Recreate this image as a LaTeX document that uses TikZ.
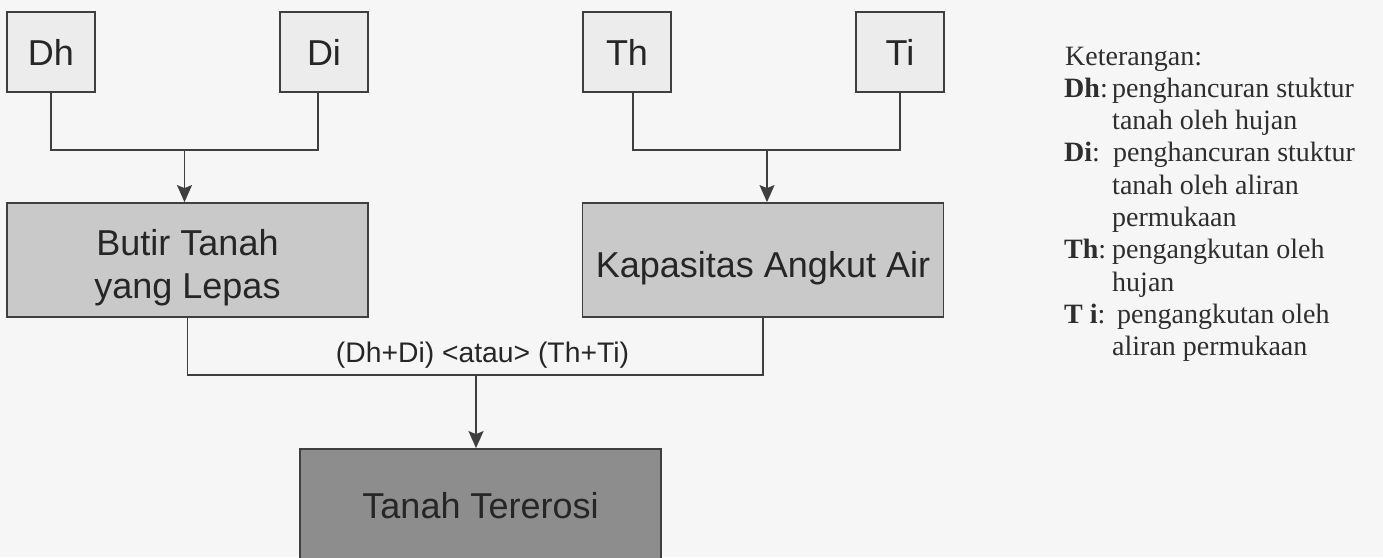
\documentclass[tikz,border=0pt]{standalone}
\usepackage{fontspec}
\setmainfont{Liberation Serif}
\newfontfamily\boxfont{Liberation Sans}
\usetikzlibrary{arrows.meta}
\definecolor{bgcol}{HTML}{F6F6F6}
\definecolor{inputfill}{HTML}{ECECEC}
\definecolor{midfill}{HTML}{C9C9C9}
\definecolor{endfill}{HTML}{8D8D8D}
\definecolor{edgecol}{HTML}{3F3F3F}
\definecolor{inkcol}{HTML}{262626}
\definecolor{legendink}{HTML}{2E2E2E}
% set a box label with its baseline a given distance below the box centre
\newcommand\dropby[2]{\raisebox{-#1}[0pt][0pt]{#2}}

\begin{document}
\begin{tikzpicture}[x=1pt,y=-1pt,
  box/.style={draw=edgecol, line width=1.8pt, inner sep=0pt, text=inkcol,
    font=\boxfont\fontsize{36}{43}\selectfont},
  smallbox/.style={box, fill=inputfill, minimum width=88pt, minimum height=80pt},
  widebox/.style={box, fill=midfill, minimum width=361pt, minimum height=114pt},
  link/.style={draw=edgecol, line width=1.6pt},
  arr/.style={link, -{Stealth[length=17pt,width=15pt,inset=3pt]}},
  legend/.style={anchor=base west, inner sep=0pt, text=legendink,
    font=\fontsize{28}{32}\selectfont},
]
% page area and background
\useasboundingbox (0,0) rectangle (1383,557);
\fill[bgcol] (0,0) rectangle (1383,557);
\clip (0,0) rectangle (1383,557);

% input factors
\node[smallbox] (Dh) at (51,52) {\dropby{13pt}{Dh}};
\node[smallbox] (Di) at (324,52) {\dropby{13pt}{Di}};
\node[smallbox] (Th) at (627,52) {\dropby{13pt}{Th}};
\node[smallbox] (Ti) at (900,52) {\dropby{13pt}{Ti}};

% intermediate quantities
\node[widebox] (Butir) at (187.5,260)
  {\raisebox{5pt}[0pt][0pt]{\begin{tabular}[t]{@{}c@{}}Butir Tanah\\yang Lepas\end{tabular}}};
\node[widebox] (Kap) at (763,260) {\dropby{17pt}{Kapasitas Angkut Air}};

% result
\node[widebox, fill=endfill] (Erosi) at (480.5,506) {\dropby{12pt}{Tanah Tererosi}};

% junction points
\coordinate (jD) at (184.5,150);
\coordinate (jT) at (767,150);
\coordinate (jE) at (476,375);

% connectors
\draw[link] (Dh.south) |- (jD) -| ([xshift=-6pt]Di.south);
\draw[arr] (jD) -- (jD |- Butir.north);
\draw[link] ([xshift=6pt]Th.south) |- (jT) -| (Ti.south);
\draw[arr] (jT) -- (jT |- Kap.north);
\draw[link] (Butir.south) |- (jE) -| (Kap.south);
\draw[arr] (jE) -- (jE |- Erosi.north);

\node[anchor=base, inner sep=0pt, text=inkcol, font=\boxfont\fontsize{28.3}{32}\selectfont]
  (cond) at (482.5,362) {(Dh+Di) <atau> (Th+Ti)};

% legend
\node[legend] (ket) at (1065,65) {Keterangan:};
\node[legend] (kDh) at (1064,97) {\textbf{Dh}:};
\node[legend] (tDh1) at (1112,97) {penghancuran stuktur};
\node[legend] (tDh2) at (1112,129) {tanah oleh hujan};
\node[legend] (kDi) at (1064,161) {\textbf{Di}:};
\node[legend] (tDi1) at (1113,161) {penghancuran stuktur};
\node[legend] (tDi2) at (1112,194) {tanah oleh aliran};
\node[legend] (tDi3) at (1112,226) {permukaan};
\node[legend] (kTh) at (1064,258) {\textbf{Th}:};
\node[legend] (tTh1) at (1112,258) {pengangkutan oleh};
\node[legend] (tTh2) at (1112,291) {hujan};
\node[legend] (kTi) at (1064,323) {\textbf{T i}:};
\node[legend] (tTi1) at (1117,323) {pengangkutan oleh};
\node[legend] (tTi2) at (1112,355) {aliran permukaan};
\end{tikzpicture}
\end{document}
